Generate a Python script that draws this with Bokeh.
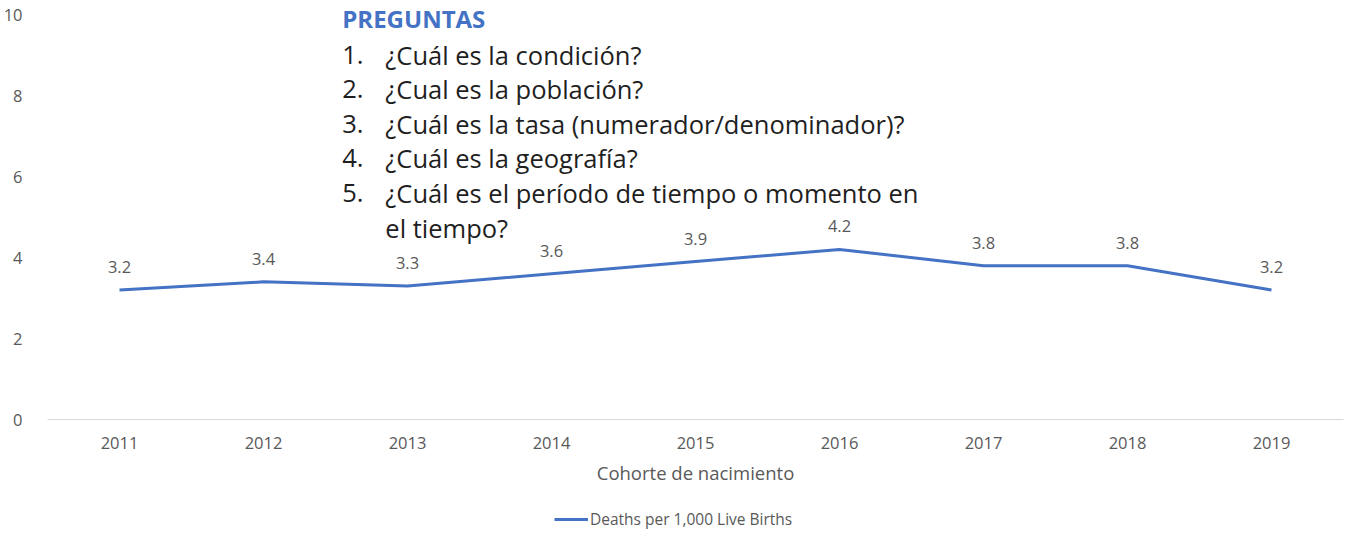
from bokeh.plotting import figure
from bokeh.models import (FactorRange, Range1d, Label, Legend, LegendItem,
                          ColumnDataSource, LabelSet, FixedTicker)
from bokeh.layouts import column
from bokeh.core.properties import value
from bokeh.embed import file_html
from bokeh.resources import INLINE

# ---- data ----
years = ["2011", "2012", "2013", "2014", "2015", "2016", "2017", "2018", "2019"]
deaths = [3.2, 3.4, 3.3, 3.6, 3.9, 4.2, 3.8, 3.8, 3.2]
y_ticks = [0, 2, 4, 6, 8, 10]
series_name = "Deaths per 1,000 Live Births"
x_title = "Cohorte de nacimiento"
box_title = "PREGUNTAS"
question_numbers = ["1.", "2.", "3.", "4.", "5.", ""]
question_lines = [
    "¿Cuál es la condición?",
    "¿Cual es la población?",
    "¿Cuál es la tasa (numerador/denominador)?",
    "¿Cuál es la geografía?",
    "¿Cuál es el período de tiempo o momento en",
    "el tiempo?",
]

FONT = "Open Sans"
GREY = "#595959"
BLUE = "#4472C4"
DARK = "#1f1f1f"

src = ColumnDataSource(dict(year=years, deaths=deaths,
                            label=[f"{v:.1f}" for v in deaths]))

p = figure(width=1347, height=500,
           x_range=FactorRange(*years, range_padding=0),
           y_range=Range1d(0, 10.35),
           output_backend="svg", toolbar_location=None,
           min_border_left=46, min_border_right=4,
           min_border_top=0, min_border_bottom=81)
p.outline_line_color = None
p.xgrid.grid_line_color = None
p.ygrid.grid_line_color = None

# y axis
p.yaxis.ticker = FixedTicker(ticks=y_ticks)
p.yaxis.axis_line_color = None
p.yaxis.major_tick_line_color = None
p.yaxis.minor_tick_line_color = None
p.yaxis.major_label_standoff = 19
p.yaxis.major_label_text_font = FONT
p.yaxis.major_label_text_font_size = "16.5px"
p.yaxis.major_label_text_color = GREY

# x axis
p.xaxis.axis_line_color = "#D9D9D9"
p.xaxis.axis_line_width = 1
p.xaxis.major_tick_line_color = None
p.xaxis.minor_tick_line_color = None
p.xaxis.major_label_standoff = 11
p.xaxis.major_label_text_font = FONT
p.xaxis.major_label_text_font_size = "16.5px"
p.xaxis.major_label_text_color = GREY
p.xaxis.axis_label = x_title
p.xaxis.axis_label_text_font = FONT
p.xaxis.axis_label_text_font_size = "18.5px"
p.xaxis.axis_label_text_font_style = "normal"
p.xaxis.axis_label_text_color = GREY
p.xaxis.axis_label_standoff = 8

p.line(x="year", y="deaths", source=src, line_color=BLUE, line_width=3)

labels = LabelSet(x="year", y="deaths", text="label", source=src,
                  y_offset=23, text_align="center", text_baseline="middle",
                  text_font=value(FONT), text_font_size=value("16.5px"),
                  text_color=GREY)
p.add_layout(labels)

# question box (positions in data units of the chart area)
x_num, x_txt = 2.047, 2.346
p.add_layout(Label(x=x_num, y=9.915, text=box_title, text_font=FONT,
                   text_font_size="24px", text_font_style="bold",
                   text_color=BLUE, text_baseline="alphabetic"))
y0, dy = 9.01, 0.854
for i, (n, t) in enumerate(zip(question_numbers, question_lines)):
    yy = y0 - i * dy
    if n:
        p.add_layout(Label(x=x_num, y=yy, text=n, text_font=FONT,
                           text_font_size="25.5px", text_color=DARK,
                           text_baseline="alphabetic"))
    p.add_layout(Label(x=x_txt, y=yy, text=t, text_font=FONT,
                       text_font_size="25.5px", text_color=DARK,
                       text_baseline="alphabetic"))

# legend strip below the chart (its series line lies outside this strip's range)
pl = figure(width=1347, height=35,
            x_range=FactorRange(*years, range_padding=0),
            y_range=Range1d(100, 101),
            output_backend="svg", toolbar_location=None,
            min_border=0, x_axis_location=None, y_axis_location=None)
pl.outline_line_color = None
pl.grid.visible = False
rl = pl.line(x="year", y="deaths", source=src, line_color=BLUE, line_width=3)
legend = Legend(items=[LegendItem(label=series_name, renderers=[rl])],
                location=(507, 5), orientation="horizontal",
                margin=0, padding=0, glyph_width=34, glyph_height=14,
                label_height=14, label_standoff=2, border_line_color=None,
                background_fill_alpha=0,
                label_text_font=FONT, label_text_font_size="15.5px",
                label_text_color=GREY)
pl.add_layout(legend, "center")

layout = column(p, pl, spacing=0)
open("out.html", "w").write(file_html(layout, INLINE))
